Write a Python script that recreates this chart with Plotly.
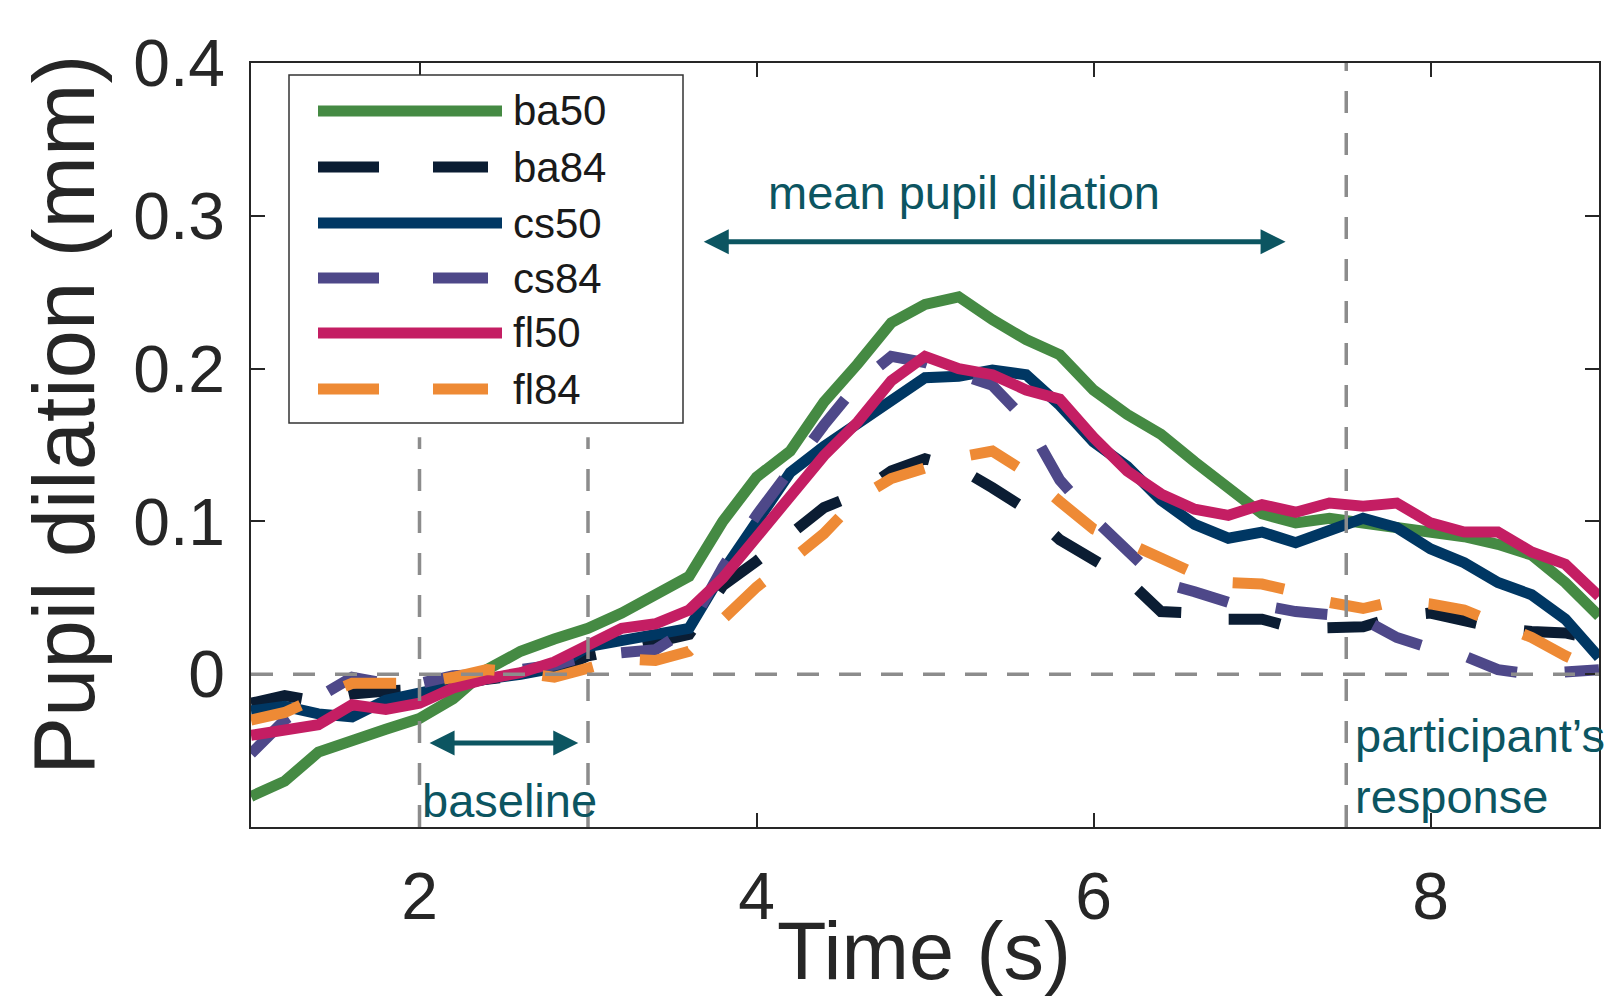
import plotly.graph_objects as go

# ---------------- data ----------------
time_s = [1.0, 1.2, 1.4, 1.6, 1.8, 2.0, 2.2, 2.4, 2.6, 2.8,
          3.0, 3.2, 3.4, 3.6, 3.8, 4.0, 4.2, 4.4, 4.6, 4.8,
          5.0, 5.2, 5.4, 5.6, 5.8, 6.0, 6.2, 6.4, 6.6, 6.8,
          7.0, 7.2, 7.4, 7.6, 7.8, 8.0, 8.2, 8.4, 8.6, 8.8, 9.0]

ba50 = [-0.080, -0.070, -0.051, -0.043, -0.036, -0.029, -0.016, 0.003, 0.015, 0.023,
        0.030, 0.040, 0.052, 0.064, 0.100, 0.129, 0.146, 0.178, 0.203, 0.230,
        0.242, 0.247, 0.232, 0.219, 0.209, 0.186, 0.170, 0.157, 0.139, 0.122,
        0.105, 0.099, 0.102, 0.099, 0.096, 0.094, 0.090, 0.085, 0.078, 0.060, 0.038]

ba84 = [-0.019, -0.014, -0.018, -0.013, -0.011, -0.010, -0.006, -0.003, 0.000, 0.002,
        0.012, 0.016, 0.021, 0.026, 0.058, 0.074, 0.092, 0.109, 0.118, 0.133,
        0.141, 0.135, 0.122, 0.108, 0.088, 0.076, 0.062, 0.041, 0.040, 0.036,
        0.036, 0.030, 0.030, 0.031, 0.038, 0.040, 0.035, 0.030, 0.028, 0.027, 0.022]

cs50 = [-0.024, -0.021, -0.026, -0.028, -0.017, -0.012, -0.007, -0.003, 0.000, 0.004,
        0.018, 0.022, 0.026, 0.030, 0.067, 0.098, 0.132, 0.149, 0.164, 0.180,
        0.194, 0.195, 0.199, 0.196, 0.176, 0.152, 0.136, 0.114, 0.098, 0.089,
        0.093, 0.086, 0.094, 0.102, 0.096, 0.082, 0.073, 0.060, 0.052, 0.036, 0.011]

cs84 = [-0.052, -0.030, -0.015, -0.002, -0.006, -0.006, -0.001, 0.000, 0.003, 0.006,
        0.012, 0.014, 0.016, 0.030, 0.070, 0.104, 0.134, 0.163, 0.190, 0.208,
        0.204, 0.196, 0.189, 0.166, 0.127, 0.102, 0.082, 0.060, 0.054, 0.047,
        0.045, 0.041, 0.039, 0.036, 0.024, 0.017, 0.012, 0.003, 0.000, 0.001, 0.003]

fl50 = [-0.040, -0.036, -0.033, -0.020, -0.023, -0.019, -0.009, -0.003, 0.001, 0.008,
        0.020, 0.030, 0.033, 0.042, 0.063, 0.090, 0.118, 0.143, 0.165, 0.192,
        0.208, 0.200, 0.196, 0.186, 0.180, 0.155, 0.133, 0.118, 0.108, 0.104,
        0.111, 0.106, 0.112, 0.110, 0.112, 0.099, 0.093, 0.093, 0.080, 0.072, 0.051]

fl84 = [-0.030, -0.025, -0.015, -0.006, -0.006, -0.006, -0.002, 0.003, 0.001, -0.002,
        0.004, 0.010, 0.009, 0.015, 0.036, 0.057, 0.074, 0.092, 0.115, 0.128,
        0.135, 0.142, 0.146, 0.132, 0.113, 0.095, 0.086, 0.076, 0.066, 0.060,
        0.059, 0.054, 0.047, 0.043, 0.048, 0.046, 0.042, 0.033, 0.024, 0.012, 0.002]

series_names = ["ba50", "ba84", "cs50", "cs84", "fl50", "fl84"]
series_values = [ba50, ba84, cs50, cs84, fl50, fl84]

x_tick_vals = [2, 4, 6, 8]
y_tick_vals = [0, 0.1, 0.2, 0.3, 0.4]
y_tick_text = ["0", "0.1", "0.2", "0.3", "0.4"]

baseline_window = [2, 3]
response_time = 7.5
mean_window = [3.678, 7.14]

# ---------------- styles ----------------
colors = ["#458a43", "#0b1d33", "#003763", "#4e4889", "#c41e63", "#ee8a35"]
dashed = [False, True, False, True, False, True]
TEAL = "#0c5561"
GRAY = "#8c8c8c"
AXC = "#262626"
FONT = "Liberation Sans, Arial, sans-serif"

W, H = 1605, 1000
ML, MR, MT, MB = 251, 6, 63, 173
PW, PH = W - ML - MR, H - MT - MB


def px_x(px):
    return (px - ML) / PW


def px_y(py):
    return (H - MB - py) / PH


fig = go.Figure()
for name, vals, col, dsh in zip(series_names, series_values, colors, dashed):
    fig.add_trace(go.Scatter(
        x=time_s, y=vals, mode="lines", name=name, showlegend=False,
        line=dict(color=col, width=11, dash="52px,48px" if dsh else "solid"),
    ))

shapes = []
# reference lines
shapes.append(dict(type="line", xref="x", yref="y", x0=1, x1=9, y0=0, y1=0,
                   line=dict(color=GRAY, width=3.5, dash="22px,20px")))
for xv in baseline_window:
    shapes.append(dict(type="line", xref="x", yref="y", x0=xv, x1=xv, y0=-0.1, y1=0.155,
                       line=dict(color=GRAY, width=3.5, dash="22px,20px")))
shapes.append(dict(type="line", xref="x", yref="y", x0=response_time, x1=response_time,
                   y0=-0.1, y1=0.4, line=dict(color=GRAY, width=3.5, dash="22px,20px")))

# custom legend (long line samples as in the reference)
shapes.append(dict(type="rect", xref="paper", yref="paper",
                   x0=px_x(289), x1=px_x(683), y0=px_y(423), y1=px_y(75),
                   line=dict(color="#333333", width=1.5), fillcolor="white"))
leg_y = [111, 167, 223, 278, 333, 389]
annotations = []
for name, col, dsh, ly in zip(series_names, colors, dashed, leg_y):
    shapes.append(dict(type="line", xref="paper", yref="paper",
                       x0=px_x(318), x1=px_x(488 if dsh else 502), y0=px_y(ly), y1=px_y(ly),
                       line=dict(color=col, width=11, dash="61px,54px" if dsh else "solid")))
    annotations.append(dict(text=name, xref="paper", yref="paper", x=px_x(511), y=px_y(ly),
                            xanchor="left", yanchor="middle", showarrow=False,
                            font=dict(family=FONT, size=42, color="#1a1a1a")))

# axis titles
annotations.append(dict(text="Pupil dilation (mm)", xref="paper", yref="paper",
                        x=px_x(63), y=px_y(415), textangle=-90, showarrow=False,
                        xanchor="center", yanchor="middle",
                        font=dict(family=FONT, size=87, color=AXC)))
annotations.append(dict(text="Time (s)", xref="paper", yref="paper",
                        x=px_x(924), y=px_y(951), showarrow=False,
                        xanchor="center", yanchor="middle",
                        font=dict(family=FONT, size=81, color=AXC)))

# teal annotations
annotations.append(dict(text="mean pupil dilation", xref="x", yref="y", x=5.234, y=0.3155,
                        showarrow=False, xanchor="center", yanchor="middle",
                        font=dict(family=FONT, size=47, color=TEAL)))
annotations.append(dict(text="", xref="x", yref="y", x=mean_window[1], y=0.283,
                        axref="x", ayref="y", ax=mean_window[0], ay=0.283,
                        showarrow=True, arrowhead=2, arrowside="end+start",
                        arrowwidth=5, arrowsize=1, arrowcolor=TEAL))
annotations.append(dict(text="", xref="x", yref="y", x=2.942, y=-0.045,
                        axref="x", ayref="y", ax=2.051, ay=-0.045,
                        showarrow=True, arrowhead=2, arrowside="end+start",
                        arrowwidth=5, arrowsize=1, arrowcolor=TEAL))
annotations.append(dict(text="baseline", xref="x", yref="y", x=2.0, y=-0.0824,
                        showarrow=False, xanchor="left", yanchor="middle",
                        font=dict(family=FONT, size=47, color=TEAL)))
annotations.append(dict(text="participant’s<br>response", xref="x", yref="y", x=7.54, y=-0.0598,
                        showarrow=False, xanchor="left", yanchor="middle", align="left",
                        font=dict(family=FONT, size=47, color=TEAL)))

axis_common = dict(showgrid=False, zeroline=False, showline=True, linecolor=AXC, linewidth=1.5,
                   ticks="inside", ticklen=14, tickwidth=1.5, tickcolor=AXC, mirror="ticks",
                   tickfont=dict(family=FONT, size=66, color=AXC))

fig.update_layout(
    width=W, height=H,
    margin=dict(l=ML, r=MR, t=MT, b=MB, autoexpand=False),
    paper_bgcolor="white", plot_bgcolor="white",
    xaxis=dict(range=[1, 9], tickvals=x_tick_vals, ticklabelstandoff=11, **axis_common),
    yaxis=dict(range=[-0.1, 0.4], tickvals=y_tick_vals, ticktext=y_tick_text,
               ticklabelstandoff=11, **axis_common),
    shapes=shapes, annotations=annotations, showlegend=False,
)

fig.write_html("out.html")
